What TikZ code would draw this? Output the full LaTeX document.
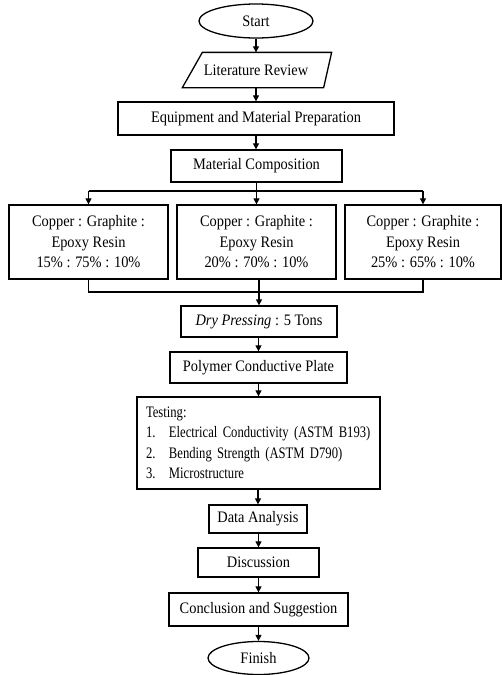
\documentclass[tikz,border=0pt]{standalone}
\usepackage{fontspec}
\setmainfont{Liberation Serif}[FakeStretch=0.9]
\newfontfamily\testfont{Liberation Serif}[FakeStretch=0.79]
\usetikzlibrary{shapes.geometric,arrows.meta}
\begin{document}
\begin{tikzpicture}[x=1pt,y=-1pt,
  box/.style={draw, line width=1.3pt, inner sep=0pt, font=\fontsize{16}{20.5}\selectfont, align=center},
  arr/.style={-{Triangle[length=6pt,width=6pt]}, line width=1.2pt},
  ln/.style={line width=1.2pt}]
\useasboundingbox (0,0) rectangle (502,675);
\node[box, ellipse, minimum width=114, minimum height=34] (start) at (256,21) {Start};
\node[box, draw=none, minimum width=130, minimum height=34] (lit) at (256,70) {Literature Review};
\draw[line width=1.3pt] ([xshift=12pt]lit.north west) -- ([xshift=10pt]lit.north east) -- ([xshift=2pt]lit.south east) -- ([xshift=-8pt]lit.south west) -- cycle;
\node[box, minimum width=276, minimum height=33] (equip) at (256,118.5) {Equipment and Material Preparation};
\node[box, minimum width=171, minimum height=32] (mc) at (256.5,166) {Material Composition};
\node[box, minimum width=159, minimum height=74] (c1) at (88.5,242) {Copper : Graphite :\\ Epoxy Resin\\ 15\% : 75\% : 10\%};
\node[box, minimum width=159, minimum height=74] (c2) at (256.5,242) {Copper : Graphite :\\ Epoxy Resin\\ 20\% : 70\% : 10\%};
\node[box, minimum width=156, minimum height=74] (c3) at (423,242) {Copper : Graphite :\\ Epoxy Resin\\ 25\% : 65\% : 10\%};
\node[box, minimum width=156, minimum height=31] (dry) at (259,321.5) {\textit{Dry Pressing} : 5 Tons};
\node[box, minimum width=177, minimum height=31] (poly) at (258.5,367.5) {Polymer Conductive Plate};
\node[box, align=left, text width=225pt, inner xsep=9pt, minimum height=92, font=\testfont\fontsize{16}{20.5}\selectfont] (test) at (258.5,443) {\mbox{Testing:}\\
\mbox{\makebox[23pt][l]{1.}Electrical Conductivity (ASTM B193)}\\
\mbox{\makebox[23pt][l]{2.}Bending Strength (ASTM D790)}\\
\mbox{\makebox[23pt][l]{3.}Microstructure}};
\node[box, minimum width=98, minimum height=28] (data) at (258,519) {Data Analysis};
\node[box, minimum width=121, minimum height=29] (disc) at (258.5,562.5) {Discussion};
\node[box, minimum width=179, minimum height=33] (concl) at (258.5,609.5) {Conclusion and Suggestion};
\node[box, ellipse, minimum width=101, minimum height=33] (finish) at (258.5,658) {Finish};
\coordinate (br) at (256.5,191);
\coordinate (mg) at (259,292);
\draw[arr] (start.south) -- (start.south |- lit.north);
\draw[arr] (lit.south -| equip.north) -- (equip.north);
\draw[arr] (equip.south) -- (equip.south |- mc.north);
\draw[arr] (mc.south) -- (mc.south |- c2.north);
\draw[ln] (c1.north |- br) -- (c3.north |- br);
\draw[arr] (c1.north |- br) -- (c1.north);
\draw[arr] (c3.north |- br) -- (c3.north);
\draw[ln] (c1.south) -- (c1.south |- mg) -- (c3.south |- mg) -- (c3.south);
\draw[arr] (c2.south -| dry.north) -- (dry.north);
\draw[arr] (dry.south -| poly.north) -- (poly.north);
\draw[arr] (poly.south -| test.north) -- (test.north);
\draw[arr] (test.south -| data.north) -- (data.north);
\draw[arr] (data.south -| disc.north) -- (disc.north);
\draw[arr] (disc.south -| concl.north) -- (concl.north);
\draw[arr] (concl.south -| finish.north) -- (finish.north);
\end{tikzpicture}
\end{document}
